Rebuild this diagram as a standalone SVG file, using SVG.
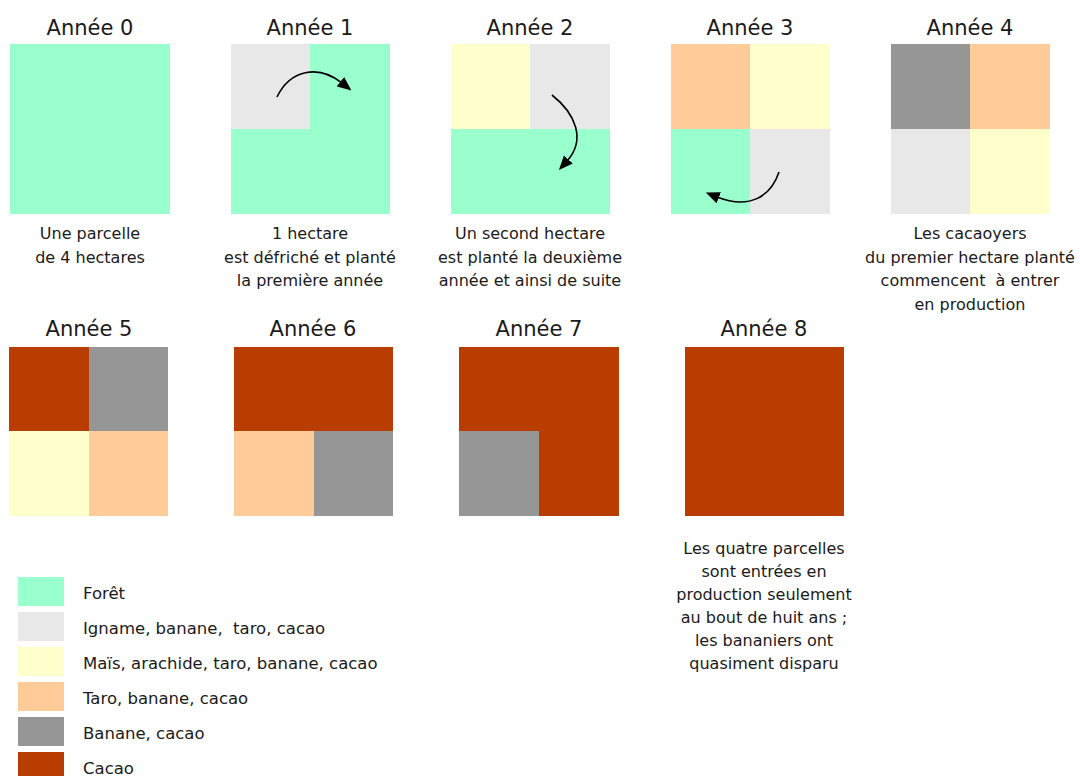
<svg xmlns="http://www.w3.org/2000/svg" width="1080" height="776" viewBox="0 0 1080 776">
<style>
text{font-family:"DejaVu Sans","Liberation Sans",sans-serif;fill:#1a1a1a;text-anchor:middle}
.t{font-size:21px}
.c{font-size:16px}
.l{font-size:16.5px;text-anchor:start}
.f{fill:#99FFCC}
.g{fill:#E8E8E8}
.y{fill:#FFFFCC}
.p{fill:#FFCC99}
.d{fill:#969696}
.k{fill:#B93C00}
.arr{fill:none;stroke:#000;stroke-width:1.6;marker-end:url(#ah)}
</style>
<defs>
<marker id="ah" viewBox="0 0 14 12" refX="2" refY="6" markerWidth="14" markerHeight="12" markerUnits="userSpaceOnUse" orient="auto">
<path d="M0,0 L14,6 L0,12 Z" fill="#000"/>
</marker>
</defs>

<g id="annee0">
<text class="t" x="90" y="35">Année 0</text>
<rect class="f" x="10" y="44" width="160" height="170"/>
<text class="c" x="90" y="239">Une parcelle</text>
<text class="c" x="90" y="262.5">de 4 hectares</text>
</g>

<g id="annee1">
<text class="t" x="310" y="35">Année 1</text>
<rect class="f" x="231" y="44" width="159" height="170"/>
<rect class="g" x="231" y="44" width="79" height="85"/>
<text class="c" x="310" y="239">1 hectare</text>
<text class="c" x="310" y="262.5">est défriché et planté</text>
<text class="c" x="310" y="286">la première année</text>
</g>

<g id="annee2">
<text class="t" x="530" y="35">Année 2</text>
<rect class="f" x="451" y="129" width="159" height="85"/>
<rect class="y" x="451" y="44" width="79" height="85"/>
<rect class="g" x="530" y="44" width="80" height="85"/>
<text class="c" x="530" y="239">Un second hectare</text>
<text class="c" x="530" y="262.5">est planté la deuxième</text>
<text class="c" x="530" y="286">année et ainsi de suite</text>
</g>

<g id="annee3">
<text class="t" x="750" y="35">Année 3</text>
<rect class="p" x="671" y="44" width="79" height="85"/>
<rect class="y" x="750" y="44" width="80" height="85"/>
<rect class="f" x="671" y="129" width="79" height="85"/>
<rect class="g" x="750" y="129" width="80" height="85"/>
</g>

<g id="annee4">
<text class="t" x="970" y="35">Année 4</text>
<rect class="d" x="891" y="44" width="79" height="85"/>
<rect class="p" x="970" y="44" width="80" height="85"/>
<rect class="g" x="891" y="129" width="79" height="85"/>
<rect class="y" x="970" y="129" width="80" height="85"/>
<text class="c" x="970" y="239">Les cacaoyers</text>
<text class="c" x="970" y="262.5">du premier hectare planté</text>
<text class="c" x="970" y="286" xml:space="preserve">commencent  à entrer</text>
<text class="c" x="970" y="309.5">en production</text>
</g>

<g id="annee5">
<text class="t" x="89" y="336">Année 5</text>
<rect class="k" x="9" y="347" width="80" height="84"/>
<rect class="d" x="89" y="347" width="79" height="84"/>
<rect class="y" x="9" y="431" width="80" height="85"/>
<rect class="p" x="89" y="431" width="79" height="85"/>
</g>

<g id="annee6">
<text class="t" x="313" y="336">Année 6</text>
<rect class="k" x="234" y="347" width="159" height="84"/>
<rect class="p" x="234" y="431" width="80" height="85"/>
<rect class="d" x="314" y="431" width="79" height="85"/>
</g>

<g id="annee7">
<text class="t" x="539" y="336">Année 7</text>
<rect class="k" x="459" y="347" width="160" height="169"/>
<rect class="d" x="459" y="431" width="80" height="85"/>
</g>

<g id="annee8">
<text class="t" x="764" y="336">Année 8</text>
<rect class="k" x="685" y="347" width="159" height="169"/>
<text class="c" x="764" y="554">Les quatre parcelles</text>
<text class="c" x="764" y="577">sont entrées en</text>
<text class="c" x="764" y="600">production seulement</text>
<text class="c" x="764" y="623">au bout de huit ans ;</text>
<text class="c" x="764" y="646">les bananiers ont</text>
<text class="c" x="764" y="669">quasiment disparu</text>
</g>

<g id="connectors">
<path class="arr" d="M277,97 C290,70 318,64 342,83"/>
<path class="arr" d="M552,95 C576,114 586,140 567,161"/>
<path class="arr" d="M779,172 C771,196 750,210 717,197"/>
</g>

<g id="legende">
<rect class="f" x="18" y="577" width="46" height="29"/>
<text class="l" x="83" y="599">Forêt</text>
<rect class="g" x="18" y="612" width="46" height="29"/>
<text class="l" x="83" y="634" xml:space="preserve">Igname, banane,  taro, cacao</text>
<rect class="y" x="18" y="647" width="46" height="29"/>
<text class="l" x="83" y="669">Maïs, arachide, taro, banane, cacao</text>
<rect class="p" x="18" y="682" width="46" height="29"/>
<text class="l" x="83" y="704">Taro, banane, cacao</text>
<rect class="d" x="18" y="717" width="46" height="29"/>
<text class="l" x="83" y="739">Banane, cacao</text>
<rect class="k" x="18" y="752" width="46" height="24"/>
<text class="l" x="83" y="774">Cacao</text>
</g>
</svg>
